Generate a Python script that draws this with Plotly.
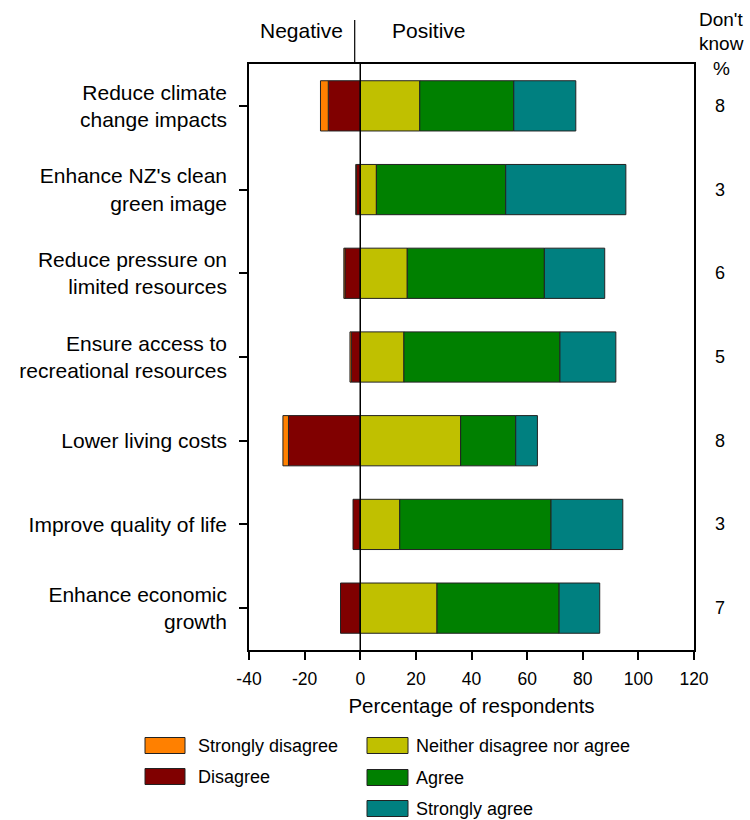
import plotly.graph_objects as go

categories = [
    "Reduce climate<br>change impacts",
    "Enhance NZ's clean<br>green image",
    "Reduce pressure on<br>limited resources",
    "Ensure access to<br>recreational resources",
    "Lower living costs",
    "Improve quality of life",
    "Enhance economic<br>growth",
]
strongly_disagree = [2.8, 0.2, 0.4, 0.5, 2.0, 0.0, 0.0]
disagree = [11.5, 1.4, 5.5, 3.2, 25.8, 2.6, 7.1]
neither = [21.4, 5.8, 16.9, 15.7, 36.1, 14.2, 27.6]
agree = [33.8, 46.5, 49.3, 56.1, 19.8, 54.4, 43.9]
strongly_agree = [22.3, 43.2, 21.7, 20.1, 7.8, 25.8, 14.6]
dont_know = [8, 3, 6, 5, 8, 3, 7]

x_ticks = [-40, -20, 0, 20, 40, 60, 80, 100, 120]

colors = {
    "Strongly disagree": "#FF8000",
    "Disagree": "#800000",
    "Neither disagree nor agree": "#C0C000",
    "Agree": "#008000",
    "Strongly agree": "#008080",
}

FONT = "Arial, 'Liberation Sans', sans-serif"
W, H = 750, 820
ML, MR, MT, MB = 249, 56, 64, 170
PW = W - ML - MR
PH = H - MT - MB


def px2x(px):
    return (px - ML) / PW


def px2y(py):
    return 1 - (py - MT) / PH


fig = go.Figure()

# negative side: Disagree adjacent to zero, then Strongly disagree outward
for name, vals in [("Disagree", disagree), ("Strongly disagree", strongly_disagree)]:
    fig.add_trace(go.Bar(
        y=categories, x=[-v for v in vals], orientation="h", name=name,
        marker=dict(color=colors[name], line=dict(color="#222222", width=1)),
        width=0.6, showlegend=False,
    ))
for name, vals in [("Neither disagree nor agree", neither), ("Agree", agree), ("Strongly agree", strongly_agree)]:
    fig.add_trace(go.Bar(
        y=categories, x=vals, orientation="h", name=name,
        marker=dict(color=colors[name], line=dict(color="#222222", width=1)),
        width=0.6, showlegend=False,
    ))

shapes = []
annotations = []

# zero line
shapes.append(dict(type="line", xref="x", yref="paper", x0=0, x1=0, y0=0, y1=1,
                   line=dict(color="black", width=1.5), layer="above"))
# divider between Negative / Positive
shapes.append(dict(type="line", xref="paper", yref="paper", x0=px2x(354.7), x1=px2x(354.7),
                   y0=px2y(63), y1=px2y(20), line=dict(color="black", width=1.2)))

annotations.append(dict(text="Negative", xref="paper", yref="paper", x=px2x(301.5), y=px2y(31),
                        xanchor="center", yanchor="middle", showarrow=False, font=dict(size=21)))
annotations.append(dict(text="Positive", xref="paper", yref="paper", x=px2x(428.7), y=px2y(31),
                        xanchor="center", yanchor="middle", showarrow=False, font=dict(size=21)))

for txt, py in [("Don't", 19), ("know", 43), ("%", 68)]:
    annotations.append(dict(text=txt, xref="paper", yref="paper", x=px2x(721), y=px2y(py),
                            xanchor="center", yanchor="middle", showarrow=False, font=dict(size=19)))

for cat, dk in zip(categories, dont_know):
    annotations.append(dict(text=str(dk), xref="paper", yref="y", x=px2x(720), y=cat,
                            xanchor="center", yanchor="middle", showarrow=False, font=dict(size=18)))

# manual legend: (name, swatch x0, swatch x1, text x, centre y)
legend_items = [
    ("Strongly disagree", 145, 185, 196, 745.5),
    ("Disagree", 145, 185, 196, 776.5),
    ("Neither disagree nor agree", 367, 408, 414, 745.5),
    ("Agree", 367, 408, 414, 777.5),
    ("Strongly agree", 367, 408, 414, 808.5),
]
for name, x0, x1, tx, yc in legend_items:
    shapes.append(dict(type="rect", xref="paper", yref="paper",
                       x0=px2x(x0), x1=px2x(x1), y0=px2y(yc + 8), y1=px2y(yc - 8),
                       fillcolor=colors[name], line=dict(color="#222222", width=1)))
    annotations.append(dict(text=name, xref="paper", yref="paper", x=px2x(tx), y=px2y(yc),
                            xanchor="left", yanchor="middle", showarrow=False, font=dict(size=18)))

fig.update_layout(
    barmode="relative",
    width=W, height=H,
    margin=dict(l=ML, r=MR, t=MT, b=MB, autoexpand=False),
    plot_bgcolor="white", paper_bgcolor="white",
    font=dict(family=FONT, size=20, color="black"),
    shapes=shapes, annotations=annotations,
    showlegend=False,
    xaxis=dict(
        range=[-40, 120], tickvals=x_ticks, ticktext=[str(v) for v in x_ticks],
        showgrid=False, zeroline=False,
        showline=True, mirror=True, linecolor="black", linewidth=1.5,
        ticks="outside", ticklen=8, tickwidth=1.5, tickcolor="black",
        tickfont=dict(size=17.5),
        ticklabelstandoff=4,
        title=dict(text="Percentage of respondents", font=dict(size=20.5), standoff=11),
    ),
    yaxis=dict(
        categoryorder="array", categoryarray=categories, autorange="reversed",
        range=[6.5, -0.5],
        showgrid=False, zeroline=False,
        showline=True, mirror=True, linecolor="black", linewidth=1.5,
        ticks="outside", ticklen=8, tickwidth=1.5, tickcolor="black",
        tickfont=dict(size=21),
        ticklabelstandoff=8,
    ),
)

fig.write_html(
    "out.html",
    config={"displayModeBar": False},
    post_script="document.body.style.margin='0px';document.body.style.overflow='hidden';",
)
